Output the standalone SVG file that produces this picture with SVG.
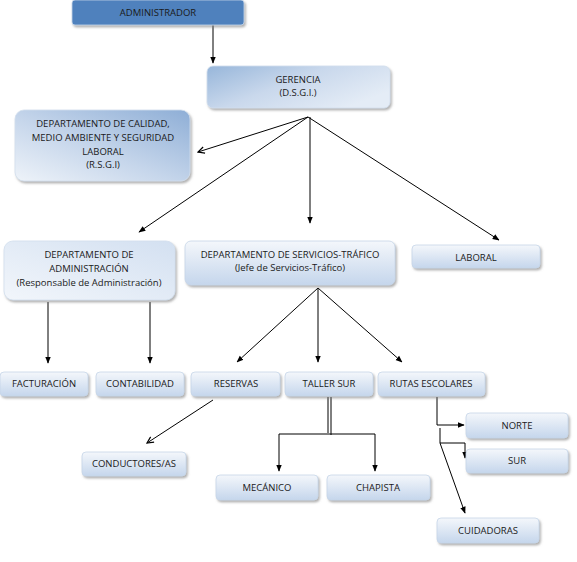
<svg xmlns="http://www.w3.org/2000/svg" width="577" height="562" viewBox="0 0 577 562">
<defs>
<linearGradient id="gSmall" x1="0" y1="0" x2="0" y2="1"><stop offset="0" stop-color="#f4f7fb"/><stop offset="1" stop-color="#c5d6ec"/></linearGradient>
<linearGradient id="gBig" x1="0" y1="0" x2="1" y2="0.6"><stop offset="0" stop-color="#97b6da"/><stop offset="0.5" stop-color="#c9d8ec"/><stop offset="1" stop-color="#e4ecf6"/></linearGradient>
<linearGradient id="gCal" x1="1" y1="0" x2="0" y2="1"><stop offset="0" stop-color="#8eaed6"/><stop offset="0.55" stop-color="#c6d6eb"/><stop offset="1" stop-color="#eef3f9"/></linearGradient>
<linearGradient id="gAdm" x1="0" y1="1" x2="1" y2="0"><stop offset="0" stop-color="#f2f6fb"/><stop offset="1" stop-color="#d3e0f1"/></linearGradient>
<marker id="ah" viewBox="0 0 10 10" refX="9" refY="5" markerWidth="7" markerHeight="7" orient="auto"><path d="M0,1 L10,5 L0,9 z" fill="#000"/></marker>
<marker id="av" viewBox="0 0 10 10" refX="9" refY="5" markerWidth="8" markerHeight="8" orient="auto"><path d="M1,1 L9,5 L1,9" fill="none" stroke="#000" stroke-width="1.5"/></marker>
<filter id="sh" x="-10%" y="-10%" width="125%" height="140%"><feDropShadow dx="1.5" dy="2" stdDeviation="1.2" flood-color="#7f7f7f" flood-opacity="0.6"/></filter>
</defs>
<style>
.b{fill:url(#gSmall);stroke:#c7d5e8;stroke-width:0.8;filter:url(#sh)}
.t{font-family:"Open Sans","Liberation Sans",sans-serif;font-size:9.5px;fill:#1a1a1a;text-anchor:middle}
.c{fill:none;stroke:#000;stroke-width:1}
</style>
<rect width="577" height="562" fill="#fff"/>

<g id="connectors">
<line class="c" x1="213" y1="25" x2="213" y2="63" marker-end="url(#ah)"/>
<line class="c" x1="308" y1="117" x2="198" y2="152" stroke-width="1.3" marker-end="url(#av)"/>
<line class="c" x1="308" y1="117" x2="139" y2="232" marker-end="url(#ah)"/>
<line class="c" x1="310" y1="117" x2="310" y2="223" marker-end="url(#ah)"/>
<line class="c" x1="308" y1="117" x2="499" y2="240" marker-end="url(#ah)"/>
<line class="c" x1="48" y1="302" x2="48" y2="363" marker-end="url(#ah)"/>
<line class="c" x1="150" y1="302" x2="150" y2="363" marker-end="url(#ah)"/>
<line class="c" x1="318" y1="288" x2="237" y2="362" stroke-width="1.5" marker-end="url(#ah)"/>
<line class="c" x1="318" y1="288" x2="318" y2="362" stroke-width="1.5" marker-end="url(#ah)"/>
<line class="c" x1="318" y1="288" x2="402" y2="362" stroke-width="1.5" marker-end="url(#ah)"/>
<line class="c" x1="213" y1="400" x2="147" y2="443" stroke-width="1.3" marker-end="url(#av)"/>
<path class="c" d="M328,397 V433 M331,397 V435" stroke="#444"/>
<path class="c" d="M331,434 H279 V471" stroke="#333" marker-end="url(#ah)"/>
<path class="c" d="M331,434 H375 V471" stroke="#333" marker-end="url(#ah)"/>
<path class="c" d="M437,397 V425 H464" stroke="#333" marker-end="url(#ah)"/>
<path class="c" d="M440,428 V443 H465 V458" stroke="#333" marker-end="url(#ah)"/>
<line class="c" x1="440" y1="443" x2="465" y2="513" stroke-width="1.3" marker-end="url(#ah)"/>
</g>

<g id="administrador">
<rect x="72" y="0" width="172" height="25" rx="3" fill="#4f81bd" stroke="#c7d5e8" stroke-width="0.8" filter="url(#sh)"/>
<text class="t" x="158" y="16">ADMINISTRADOR</text>
</g>
<g id="gerencia">
<rect x="207" y="66" width="183" height="42" rx="6" fill="url(#gBig)" stroke="#d2deee" stroke-width="0.8" filter="url(#sh)"/>
<text class="t" x="298" y="83">GERENCIA</text>
<text class="t" x="298" y="96">(D.S.G.I.)</text>
</g>
<g id="calidad">
<rect x="15" y="110" width="175" height="71" rx="9" fill="url(#gCal)" stroke="#d2deee" stroke-width="0.8" filter="url(#sh)"/>
<text class="t" x="103" y="127">DEPARTAMENTO DE CALIDAD,</text>
<text class="t" x="103" y="141">MEDIO AMBIENTE Y SEGURIDAD</text>
<text class="t" x="103" y="155">LABORAL</text>
<text class="t" x="103" y="168">(R.S.G.I)</text>
</g>
<g id="administracion">
<rect x="4" y="241" width="171" height="59" rx="9" fill="url(#gAdm)" stroke="#d2deee" stroke-width="0.8" filter="url(#sh)"/>
<text class="t" x="89" y="258">DEPARTAMENTO DE</text>
<text class="t" x="89" y="272">ADMINISTRACIÓN</text>
<text class="t" x="89" y="286">(Responsable de Administración)</text>
</g>
<g id="servicios">
<rect x="185" y="241" width="210" height="44" rx="6" fill="url(#gSmall)" stroke="#c7d5e8" stroke-width="0.8" filter="url(#sh)"/>
<text class="t" x="290" y="258">DEPARTAMENTO DE SERVICIOS-TRÁFICO</text>
<text class="t" x="290" y="271">(Jefe de Servicios-Tráfico)</text>
</g>
<g id="laboral"><rect class="b" x="412" y="245" width="128" height="23" rx="4"/><text class="t" x="476" y="261">LABORAL</text></g>
<g id="facturacion"><rect class="b" x="0" y="372" width="88" height="24" rx="4"/><text class="t" x="44" y="387">FACTURACIÓN</text></g>
<g id="contabilidad"><rect class="b" x="96" y="372" width="88" height="24" rx="4"/><text class="t" x="140" y="387">CONTABILIDAD</text></g>
<g id="reservas"><rect class="b" x="191" y="372" width="89" height="24" rx="4"/><text class="t" x="236" y="387">RESERVAS</text></g>
<g id="taller"><rect class="b" x="285" y="372" width="88" height="24" rx="4"/><text class="t" x="329" y="387">TALLER SUR</text></g>
<g id="rutas"><rect class="b" x="378" y="372" width="107" height="24" rx="4"/><text class="t" x="431" y="387">RUTAS ESCOLARES</text></g>
<g id="conductores"><rect class="b" x="82" y="452" width="104" height="24" rx="4"/><text class="t" x="134" y="467">CONDUCTORES/AS</text></g>
<g id="mecanico"><rect class="b" x="216" y="475" width="102" height="25" rx="4"/><text class="t" x="267" y="491">MECÁNICO</text></g>
<g id="chapista"><rect class="b" x="327" y="475" width="103" height="25" rx="4"/><text class="t" x="378" y="491">CHAPISTA</text></g>
<g id="norte"><rect class="b" x="466" y="413" width="102" height="25" rx="4"/><text class="t" x="517" y="429">NORTE</text></g>
<g id="sur"><rect class="b" x="466" y="449" width="102" height="24" rx="4"/><text class="t" x="517" y="464">SUR</text></g>
<g id="cuidadoras"><rect class="b" x="437" y="518" width="102" height="25" rx="4"/><text class="t" x="488" y="534">CUIDADORAS</text></g>
</svg>
